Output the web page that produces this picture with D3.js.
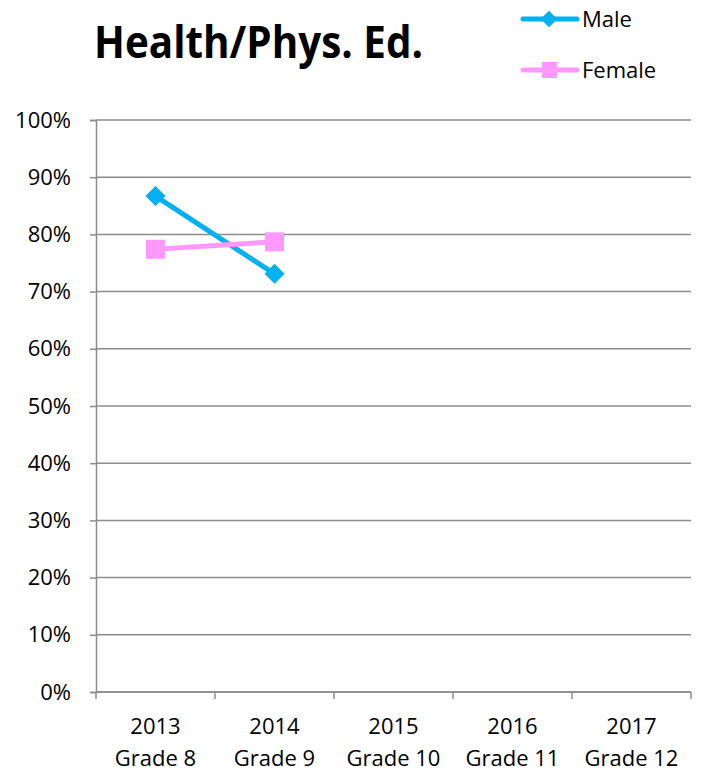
<!DOCTYPE html>
<html>
<head>
<meta charset="utf-8">
<script src="https://cdn.jsdelivr.net/npm/d3@7"></script>
<style>
body { margin: 0; background: #fff; }
svg text { font-family: "Open Sans", "Liberation Sans", sans-serif; }
</style>
</head>
<body>
<div id="chart"></div>
<script>
// data
var years = ["2013", "2014", "2015", "2016", "2017"];
var grades = ["Grade 8", "Grade 9", "Grade 10", "Grade 11", "Grade 12"];
var male = [0.867, 0.731];
var female = [0.774, 0.787];
var yTicks = [0, 0.1, 0.2, 0.3, 0.4, 0.5, 0.6, 0.7, 0.8, 0.9, 1.0];

var W = 702, H = 775;
var margin = {top: 120, right: 11, bottom: 83, left: 96},
  width = W - margin.left - margin.right,
  height = H - margin.top - margin.bottom;

var svg = d3.select("#chart").append("svg")
  .attr("width", W)
  .attr("height", H);

var g = svg.append("g")
  .attr("transform", "translate(" + margin.left + "," + margin.top + ")");

var x = d3.scaleBand().domain(years).range([0, width]);
var y = d3.scaleLinear().domain([0, 1]).range([height, 0]);

// gridlines
g.selectAll(".grid").data(yTicks).enter().append("line")
  .attr("x1", 0).attr("x2", width)
  .attr("y1", function(d) { return y(d); })
  .attr("y2", function(d) { return y(d); })
  .attr("stroke", "#8c8c8c").attr("stroke-width", 1.5);

// y axis
var yAxis = g.append("g")
  .call(d3.axisLeft(y).tickValues(yTicks).tickFormat(d3.format(".0%")).tickSize(6).tickPadding(19));
yAxis.select(".domain").attr("stroke", "#8c8c8c").attr("stroke-width", 1.5);
yAxis.selectAll(".tick line").attr("stroke", "#8c8c8c").attr("stroke-width", 1.5);
yAxis.selectAll("text").attr("font-size", 22).attr("fill", "#000")
  .style("font-family", "'Open Sans', sans-serif");

// x axis: ticks between categories
var xAxis = g.append("g").attr("transform", "translate(0," + height + ")");
xAxis.append("line").attr("x1", 0).attr("x2", width).attr("y1", 0).attr("y2", 0)
  .attr("stroke", "#8c8c8c").attr("stroke-width", 1.5);
var bounds = years.map(function(d) { return x(d); }).concat([width]);
xAxis.selectAll(".xt").data(bounds).enter().append("line")
  .attr("x1", function(d) { return d; }).attr("x2", function(d) { return d; })
  .attr("y1", 0).attr("y2", 7)
  .attr("stroke", "#8c8c8c").attr("stroke-width", 1.5);
xAxis.selectAll(".yr").data(years).enter().append("text")
  .attr("x", function(d) { return x(d) + x.bandwidth() / 2; })
  .attr("y", 42)
  .attr("text-anchor", "middle").attr("font-size", 22)
  .text(function(d) { return d; });
xAxis.selectAll(".gr").data(grades).enter().append("text")
  .attr("x", function(d, i) { return x(years[i]) + x.bandwidth() / 2; })
  .attr("y", 74)
  .attr("text-anchor", "middle").attr("font-size", 22)
  .text(function(d) { return d; });

var cx = function(d, i) { return x(years[i]) + x.bandwidth() / 2; };
var line = d3.line().x(cx).y(function(d) { return y(d); });

var maleColor = "#00b0f0", femaleColor = "#ff99ff";

g.append("path").datum(male).attr("d", line)
  .attr("fill", "none").attr("stroke", maleColor).attr("stroke-width", 5);
g.append("path").datum(female).attr("d", line)
  .attr("fill", "none").attr("stroke", femaleColor).attr("stroke-width", 5);

var diamond = d3.symbol().type(d3.symbolSquare).size(200);
g.selectAll(".mpt").data(male).enter().append("path")
  .attr("d", diamond)
  .attr("transform", function(d, i) { return "translate(" + cx(d, i) + "," + y(d) + ") rotate(45)"; })
  .attr("fill", maleColor);
g.selectAll(".fpt").data(female).enter().append("rect")
  .attr("x", function(d, i) { return cx(d, i) - 9.5; })
  .attr("y", function(d) { return y(d) - 9.5; })
  .attr("width", 19).attr("height", 19)
  .attr("fill", femaleColor);

// title
svg.append("text")
  .attr("x", 94).attr("y", 58)
  .attr("font-size", 45).attr("font-weight", "bold")
  .attr("textLength", 329).attr("lengthAdjust", "spacingAndGlyphs")
  .text("Health/Phys. Ed.");

// legend
var legend = [
  {name: "Male", color: maleColor, shape: "diamond", y: 19},
  {name: "Female", color: femaleColor, shape: "square", y: 70}
];
var lg = svg.selectAll(".lg").data(legend).enter().append("g")
  .attr("transform", function(d) { return "translate(523," + d.y + ")"; });
lg.append("line").attr("x1", 0).attr("x2", 54).attr("y1", 0).attr("y2", 0)
  .attr("stroke", function(d) { return d.color; }).attr("stroke-width", 5)
  .attr("stroke-linecap", "round");
lg.filter(function(d) { return d.shape === "diamond"; }).append("path")
  .attr("d", d3.symbol().type(d3.symbolSquare).size(140))
  .attr("transform", "translate(26,0) rotate(45)")
  .attr("fill", function(d) { return d.color; });
lg.filter(function(d) { return d.shape === "square"; }).append("rect")
  .attr("x", 19).attr("y", -8).attr("width", 15).attr("height", 16)
  .attr("fill", function(d) { return d.color; });
lg.append("text").attr("x", 59).attr("y", 8)
  .attr("font-size", 22)
  .text(function(d) { return d.name; });
</script>
</body>
</html>
